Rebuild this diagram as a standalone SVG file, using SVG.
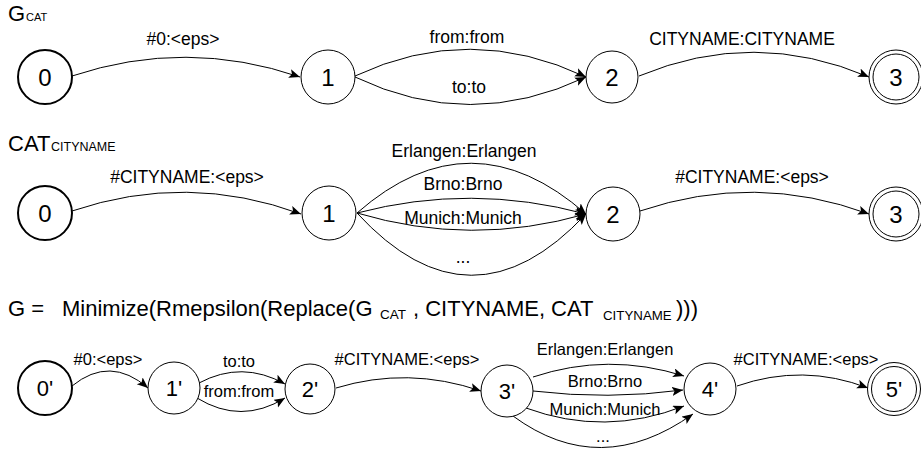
<svg xmlns="http://www.w3.org/2000/svg" width="921" height="453" viewBox="0 0 921 453">
<style>
text{font-family:"Liberation Sans",Arial,sans-serif;fill:#000}
.st{fill:#fff;stroke:#000;stroke-width:1}
.init{fill:#fff;stroke:#000;stroke-width:2}
.nl{font-size:24px;text-anchor:middle}
.nl3{font-size:22px;text-anchor:middle}
.el{font-size:17.5px;text-anchor:middle}
.el3{font-size:16.5px;text-anchor:middle}
.title{font-size:22px}
.edge{fill:none;stroke:#000;stroke-width:1;marker-end:url(#arr)}
</style>
<defs>
<marker id="arr" markerWidth="12" markerHeight="10" refX="11" refY="4.5" orient="auto" markerUnits="userSpaceOnUse">
<path d="M0,0 L11,4.5 L0,9 L2.5,4.5 z" fill="#000"/>
</marker>
</defs>

<g id="titles">
<text class="title" x="8" y="21">G</text><text x="26" y="21" font-size="11">CAT</text>
<text class="title" x="8" y="151">CAT</text><text x="51" y="151" font-size="12.5">CITYNAME</text>
<text class="title" x="8" y="316">G =</text>
<text class="title" x="62" y="316">Minimize(Rmepsilon(Replace(G</text>
<text x="380" y="319" font-size="13.5">CAT</text>
<text class="title" x="413" y="316">, CITYNAME, CAT</text>
<text x="603" y="320" font-size="13.3">CITYNAME</text>
<text class="title" x="676" y="316">)))</text>
</g>

<g id="connectors">
<path class="edge" d="M72,76 Q186,38 300,77"/>
<path class="edge" d="M355,76 Q470,22 586,77"/>
<path class="edge" d="M355,77 Q470,132 586,77"/>
<path class="edge" d="M639,76 Q754,28 869,77"/>
<path class="edge" d="M72,211 Q187,172 301,214"/>
<path class="edge" d="M357,213 Q471,113 586,214"/>
<path class="edge" d="M357,213 Q471,183 586,214"/>
<path class="edge" d="M357,213 Q471,247 586,214"/>
<path class="edge" d="M357,213 Q471,337 586,214"/>
<path class="edge" d="M640,211 Q755,172 869,214"/>
<path class="edge" d="M72,386 Q110,355 148,388"/>
<path class="edge" d="M199,383 Q242,360 285,384"/>
<path class="edge" d="M197,398 Q241,425 285,398"/>
<path class="edge" d="M336,388 Q408,366 481,391"/>
<path class="edge" d="M533,377 Q608,352 684,376"/>
<path class="edge" d="M533,391 Q608,400 683,390"/>
<path class="edge" d="M526,408 Q605,437 684,406"/>
<path class="edge" d="M513,416 Q600,480 693,414"/>
<path class="edge" d="M737,386 Q803,363 868,388"/>
</g>

<g id="edge-labels">
<text class="el" x="183" y="45">#0:&lt;eps&gt;</text>
<text class="el" x="467" y="43">from:from</text>
<text class="el" x="469" y="93">to:to</text>
<text class="el" x="742" y="45">CITYNAME:CITYNAME</text>
<text class="el" x="187" y="183">#CITYNAME:&lt;eps&gt;</text>
<text class="el" x="464" y="157">Erlangen:Erlangen</text>
<text class="el" x="463" y="190">Brno:Brno</text>
<text class="el" x="463" y="224">Munich:Munich</text>
<text class="el" x="463" y="263">...</text>
<text class="el" x="752" y="183">#CITYNAME:&lt;eps&gt;</text>
<text class="el3" x="108" y="365">#0:&lt;eps&gt;</text>
<text class="el3" x="239" y="367">to:to</text>
<text class="el3" x="239" y="397">from:from</text>
<text class="el3" x="407" y="365">#CITYNAME:&lt;eps&gt;</text>
<text class="el3" x="605" y="355">Erlangen:Erlangen</text>
<text class="el3" x="605" y="387">Brno:Brno</text>
<text class="el3" x="605" y="415">Munich:Munich</text>
<text class="el3" x="603" y="442">...</text>
<text class="el3" x="806" y="365">#CITYNAME:&lt;eps&gt;</text>
</g>

<g id="g1-0"><circle class="init" cx="45" cy="77" r="27"/><text class="nl" x="45" y="86">0</text></g>
<g id="g1-1"><circle class="st" cx="328" cy="77" r="27"/><text class="nl" x="328" y="86">1</text></g>
<g id="g1-2"><circle class="st" cx="612" cy="77" r="26"/><text class="nl" x="612" y="86">2</text></g>
<g id="g1-3"><circle class="st" cx="896" cy="77" r="27"/><circle class="st" cx="896" cy="77" r="23"/><text class="nl" x="896" y="86">3</text></g>

<g id="g2-0"><circle class="init" cx="45" cy="213" r="27"/><text class="nl" x="45" y="222">0</text></g>
<g id="g2-1"><circle class="st" cx="329" cy="213" r="27"/><text class="nl" x="329" y="222">1</text></g>
<g id="g2-2"><circle class="st" cx="613" cy="214" r="27"/><text class="nl" x="613" y="223">2</text></g>
<g id="g2-3"><circle class="st" cx="896" cy="214" r="27"/><circle class="st" cx="896" cy="214" r="23"/><text class="nl" x="896" y="223">3</text></g>

<g id="g3-0"><circle class="init" cx="45" cy="388" r="27"/><text class="nl3" x="45" y="396">0'</text></g>
<g id="g3-1"><circle class="st" cx="174" cy="388" r="26"/><text class="nl3" x="174" y="396">1'</text></g>
<g id="g3-2"><circle class="st" cx="310" cy="389" r="25"/><text class="nl3" x="310" y="397">2'</text></g>
<g id="g3-3"><circle class="st" cx="507" cy="391" r="26"/><text class="nl3" x="507" y="399">3'</text></g>
<g id="g3-4"><circle class="st" cx="710" cy="389" r="26"/><text class="nl3" x="710" y="397">4'</text></g>
<g id="g3-5"><circle class="st" cx="894" cy="389" r="26.5"/><circle class="st" cx="894" cy="389" r="22.5"/><text class="nl3" x="894" y="397">5'</text></g>
</svg>
